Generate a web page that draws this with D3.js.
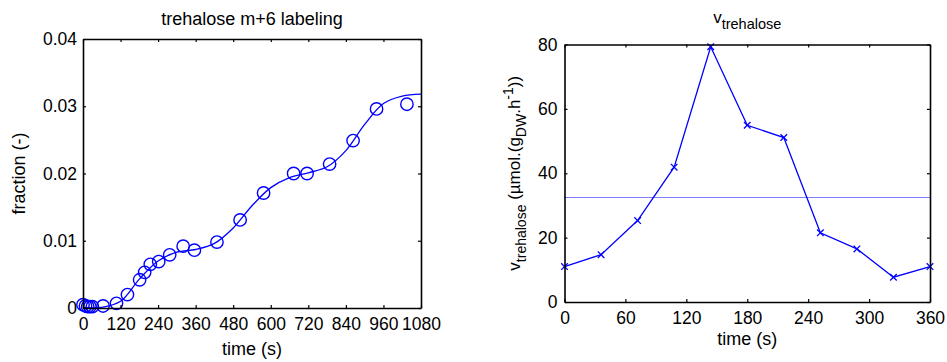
<!DOCTYPE html>
<html>
<head>
<meta charset="utf-8">
<script src="https://cdn.jsdelivr.net/npm/d3@7"></script>
<style>
  html, body { margin: 0; padding: 0; background: #fff; }
  svg { display: block; font-family: "Liberation Sans", Arial, sans-serif; }
</style>
</head>
<body>
<svg id="chart" width="947" height="362"></svg>
<script>
// ---------- Data ----------
// Left panel: trehalose m+6 labeling (measured points)
const labelTimes = [0, 8, 15, 22, 30, 64, 107, 142, 181, 197, 215, 242, 277, 320, 356, 428, 502, 577, 673, 716, 788, 863, 938, 1035];
const labelFractions = [0.0005, 0.0003, 0.0002, 0.0002, 0.0002, 0.0003, 0.0007, 0.0020, 0.0042, 0.0053, 0.0065, 0.0069, 0.0079, 0.0092, 0.0086, 0.0098, 0.0131, 0.0171, 0.0200, 0.0200, 0.0214, 0.0249, 0.0296, 0.0303];
// Left panel: fitted curve
const fitTimes = [0, 60, 120, 180, 240, 300, 360, 420, 480, 540, 600, 660, 720, 780, 840, 900, 960, 1020, 1080];
const fitFractions = [0.0001, 0.0001, 0.0010, 0.0043, 0.0070, 0.0083, 0.0087, 0.0096, 0.0119, 0.0152, 0.0179, 0.0194, 0.0201, 0.0210, 0.0234, 0.0273, 0.0304, 0.0315, 0.0318];
const leftXTicks = [0, 120, 240, 360, 480, 600, 720, 840, 960, 1080];
const leftYTicks = [0, 0.01, 0.02, 0.03, 0.04];

// Right panel: v_trehalose
const rateTimes = [0, 36, 72, 108, 144, 180, 216, 252, 288, 324, 360];
const rateValues = [11.0, 14.7, 25.3, 41.9, 79.3, 54.9, 51.1, 21.5, 16.5, 7.7, 11.0];
const rateMean = [32.5];
const rightXTicks = [0, 60, 120, 180, 240, 300, 360];
const rightYTicks = [0, 20, 40, 60, 80];

// ---------- Drawing ----------
const svg = d3.select("#chart");
const BLUE = "#0000ff";
const TICK_FS = 17.5;
const LABEL_FS = 18;

function boxAxes(g, x, y, xTicks, yTicks, yFmt, opts) {
  const [x0, x1] = x.range();
  const [y0, y1] = y.range(); // y0 bottom, y1 top
  const bottom = g.append("g").attr("transform", `translate(0,${y0})`)
    .call(d3.axisBottom(x).tickValues(xTicks).tickSizeInner(-3).tickSizeOuter(0).tickPadding(opts.xPad).tickFormat(d3.format("d")));
  const top = g.append("g").attr("transform", `translate(0,${y1})`)
    .call(d3.axisTop(x).tickValues(xTicks).tickSizeInner(-3).tickSizeOuter(0).tickFormat(""));
  const left = g.append("g").attr("transform", `translate(${x0},0)`)
    .call(d3.axisLeft(y).tickValues(yTicks).tickSizeInner(-3).tickSizeOuter(0).tickPadding(opts.yPad).tickFormat(yFmt));
  const right = g.append("g").attr("transform", `translate(${x1},0)`)
    .call(d3.axisRight(y).tickValues(yTicks).tickSizeInner(-3).tickSizeOuter(0).tickFormat(""));
  [bottom, top, left, right].forEach(a => {
    a.selectAll(".domain").attr("stroke", "#000").attr("stroke-width", 1.6);
    a.selectAll(".tick line").attr("stroke", "#000").attr("stroke-width", 1.2);
    a.selectAll(".tick text").attr("fill", "#000").attr("font-size", TICK_FS)
      .attr("font-family", "Liberation Sans, Arial, sans-serif");
  });
}

// ----- Left panel -----
const xL = d3.scaleLinear().domain([0, 1080]).range([83, 421]);
const yL = d3.scaleLinear().domain([0, 0.04]).range([308, 39]);
const gL = svg.append("g");

gL.append("path")
  .datum(fitTimes.map((t, i) => [t, fitFractions[i]]))
  .attr("fill", "none").attr("stroke", BLUE).attr("stroke-width", 1.3)
  .attr("d", d3.line().x(d => xL(d[0])).y(d => yL(d[1])).curve(d3.curveCatmullRom.alpha(0.5)));

gL.selectAll("circle.pt")
  .data(labelTimes.map((t, i) => [t, labelFractions[i]]))
  .join("circle").attr("class", "pt")
  .attr("cx", d => xL(d[0])).attr("cy", d => yL(d[1])).attr("r", 6.2)
  .attr("fill", "none").attr("stroke", BLUE).attr("stroke-width", 1.4);

boxAxes(gL, xL, yL, leftXTicks, leftYTicks, d => d === 0 ? "0" : d3.format(".2f")(d), { xPad: 10, yPad: 6 });

gL.append("text").attr("x", (83 + 421) / 2).attr("y", 25).attr("text-anchor", "middle")
  .attr("font-size", LABEL_FS).text("trehalose m+6 labeling");
gL.append("text").attr("x", (83 + 421) / 2).attr("y", 355).attr("text-anchor", "middle")
  .attr("font-size", LABEL_FS).text("time (s)");
gL.append("text").attr("transform", `translate(25,${(39 + 308) / 2}) rotate(-90)`).attr("text-anchor", "middle")
  .attr("font-size", LABEL_FS).text("fraction (-)");

// ----- Right panel -----
const xR = d3.scaleLinear().domain([0, 360]).range([564.5, 930]);
const yR = d3.scaleLinear().domain([0, 80]).range([302, 44.5]);
const gR = svg.append("g");

const meanY = Math.round(yR(rateMean[0])) + 0.5;
gR.append("line")
  .attr("x1", xR(0)).attr("x2", xR(360)).attr("y1", meanY).attr("y2", meanY)
  .attr("stroke", BLUE).attr("stroke-width", 1).attr("stroke-dasharray", "1,1");

gR.append("path")
  .datum(rateTimes.map((t, i) => [t, rateValues[i]]))
  .attr("fill", "none").attr("stroke", BLUE).attr("stroke-width", 1.3)
  .attr("d", d3.line().x(d => xR(d[0])).y(d => yR(d[1])));

gR.selectAll("path.mk")
  .data(rateTimes.map((t, i) => [t, rateValues[i]]))
  .join("path").attr("class", "mk")
  .attr("transform", d => `translate(${xR(d[0])},${yR(d[1])})`)
  .attr("d", d3.symbol(d3.symbolTimes, 30))
  .attr("fill", "none").attr("stroke", BLUE).attr("stroke-width", 1.3);

boxAxes(gR, xR, yR, rightXTicks, rightYTicks, d3.format("d"), { xPad: 10, yPad: 7 });

// Title v_trehalose
const tR = gR.append("text").attr("x", (564.5 + 930) / 2).attr("y", 23).attr("text-anchor", "middle")
  .attr("font-size", 17);
tR.append("tspan").text("v");
tR.append("tspan").attr("dy", 6).attr("font-size", 14.5).text("trehalose");

gR.append("text").attr("x", (564.5 + 930) / 2).attr("y", 345).attr("text-anchor", "middle")
  .attr("font-size", LABEL_FS).text("time (s)");

// Y label: v_trehalose (µmol.(g_DW.h^-1))
const yl = gR.append("text").attr("transform", `translate(520,${(44.5 + 302) / 2}) rotate(-90)`)
  .attr("text-anchor", "middle").attr("font-size", 17);
yl.append("tspan").text("v");
yl.append("tspan").attr("dy", 6).attr("font-size", 14).text("trehalose");
yl.append("tspan").attr("dy", -6).text(" (µmol.(g");
yl.append("tspan").attr("dy", 6).attr("font-size", 14).text("DW");
yl.append("tspan").attr("dy", -6).text(".h");
yl.append("tspan").attr("dy", -7).attr("font-size", 14).text("-1");
yl.append("tspan").attr("dy", 7).text("))");
</script>
</body>
</html>
